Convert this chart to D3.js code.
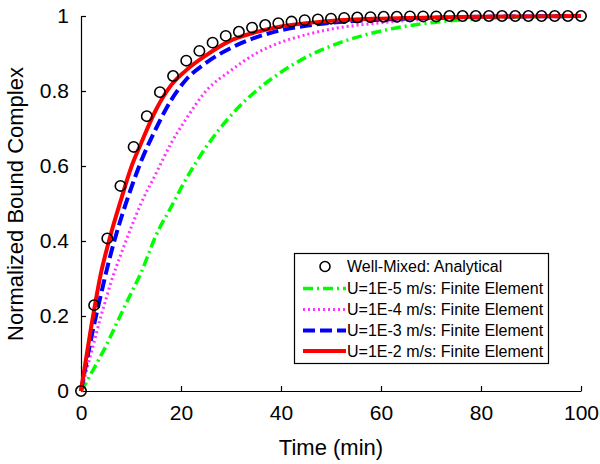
<!DOCTYPE html>
<html><head><meta charset="utf-8">
<script src="https://cdn.jsdelivr.net/npm/d3@7"></script>
<style>body{margin:0;background:#fff}svg{display:block}text{font-family:Arial,"Liberation Sans",sans-serif;fill:#000}</style>
</head><body><svg id="c" width="600" height="464"></svg>
<script>
// Analytical (well-mixed) points
const tAnalytical = [0,2.63,5.26,7.89,10.53,13.16,15.79,18.42,21.05,23.68,26.32,28.95,31.58,34.21,36.84,39.47,42.11,44.74,47.37,50,52.63,55.26,57.89,60.53,63.16,65.79,68.42,71.05,73.68,76.32,78.95,81.58,84.21,86.84,89.47,92.11,94.74,97.37,100];
const yAnalytical = [0,0.229,0.407,0.547,0.651,0.733,0.797,0.840,0.881,0.907,0.929,0.947,0.958,0.969,0.976,0.981,0.985,0.989,0.991,0.993,0.995,0.996,0.997,0.998,0.998,0.999,0.999,0.999,1,1,1,1,1,1,1,1,1,1,1];
// Finite element curves
const tFE = [0,1,2,3,4,5,6,8,10,12,15,18,21,25,30,35,40,45,50,60,70,80,90,100];
const yU1e5 = [0,0.022,0.046,0.07,0.095,0.12,0.148,0.205,0.26,0.315,0.415,0.49,0.565,0.65,0.735,0.8,0.85,0.89,0.92,0.96,0.982,0.993,0.998,1];
const yU1e4 = [0,0.05,0.1,0.15,0.2,0.245,0.29,0.365,0.435,0.5,0.58,0.66,0.725,0.8,0.855,0.9,0.93,0.95,0.965,0.982,0.992,0.997,0.999,1];
const yU1e3 = [0,0.07,0.138,0.2,0.258,0.315,0.368,0.46,0.54,0.612,0.7,0.775,0.83,0.875,0.915,0.943,0.962,0.974,0.982,0.99,0.995,0.998,0.999,1];
const yU1e2 = [0,0.085,0.168,0.245,0.315,0.37,0.42,0.51,0.595,0.66,0.75,0.815,0.855,0.895,0.935,0.957,0.972,0.981,0.987,0.993,0.996,0.998,0.999,1];
const xTicks = [0,20,40,60,80,100];
const yTicks = [0,0.2,0.4,0.6,0.8,1];
const legendLabels = ["Well-Mixed: Analytical","U=1E-5 m/s: Finite Element","U=1E-4 m/s: Finite Element","U=1E-3 m/s: Finite Element","U=1E-2 m/s: Finite Element"];

const svg = d3.select("#c");
const x = d3.scaleLinear().domain([0,100]).range([81,581]);
const y = d3.scaleLinear().domain([0,1]).range([391,16]);

const series = [
  {ys:yU1e5, color:"#00ff00", width:3.5, dash:"10,4,2,4"},
  {ys:yU1e4, color:"#ff33ff", width:3, dash:"2,3"},
  {ys:yU1e3, color:"#0000ff", width:4, dash:"12,5"},
  {ys:yU1e2, color:"#ff0000", width:4, dash:null}
];
const line = d3.line().curve(d3.curveMonotoneX);

// axes
const gx = svg.append("g").attr("transform","translate(0,391)")
  .call(d3.axisBottom(x).tickValues(xTicks).tickSizeInner(-5).tickSizeOuter(0).tickPadding(14).tickFormat(d3.format("d")));
const gy = svg.append("g").attr("transform","translate(81,0)")
  .call(d3.axisLeft(y).tickValues(yTicks).tickSizeInner(-5).tickSizeOuter(0).tickPadding(10).tickFormat(d=>d===0?"0":d===1?"1":d3.format(".1f")(d)));
[gx,gy].forEach(g=>{g.select(".domain").attr("stroke","#000").attr("stroke-width",1.2);
  g.selectAll(".tick line").attr("stroke","#000").attr("stroke-width",1.2);
  g.selectAll("text").attr("font-size",21).attr("font-family","Arial, 'Liberation Sans', sans-serif").attr("fill","#000");});
gy.selectAll("text").attr("dx","-2");

// curves
series.forEach(s=>{
  svg.append("path").attr("d", line(tFE.map((t,i)=>[x(t), y(s.ys[i])])))
    .attr("fill","none").attr("stroke",s.color).attr("stroke-width",s.width)
    .attr("stroke-dasharray",s.dash).attr("stroke-linejoin","round");
});
// analytical circles
svg.append("g").selectAll("circle").data(tAnalytical).join("circle")
  .attr("cx",(d)=>x(d)).attr("cy",(d,i)=>y(yAnalytical[i])).attr("r",5.2)
  .attr("fill","none").attr("stroke","#000").attr("stroke-width",1.6);

// axis titles
svg.append("text").attr("x",331).attr("y",455).attr("text-anchor","middle").attr("font-size",22).text("Time (min)");
svg.append("text").attr("transform","translate(23,204) rotate(-90)").attr("text-anchor","middle").attr("font-size",22).text("Normalized Bound Complex");

// legend
const lg = svg.append("g");
lg.append("rect").attr("x",294.5).attr("y",253.5).attr("width",254).attr("height",110).attr("fill","#fff").attr("stroke","#000").attr("stroke-width",1.2);
const rowY = [266.5,288.5,309.5,330.5,351];
legendLabels.forEach((lab,i)=>{
  const yy = rowY[i];
  if(i===0){
    lg.append("circle").attr("cx",325).attr("cy",yy).attr("r",5).attr("fill","none").attr("stroke","#000").attr("stroke-width",1.6);
  } else {
    const s = series[i-1];
    lg.append("line").attr("x1",303).attr("x2",346).attr("y1",yy).attr("y2",yy)
      .attr("stroke",s.color).attr("stroke-width",s.width).attr("stroke-dasharray",s.dash);
  }
  lg.append("text").attr("x",347).attr("y",yy).attr("dy","0.36em").attr("font-size",16).text(lab);
});
</script></body></html>
